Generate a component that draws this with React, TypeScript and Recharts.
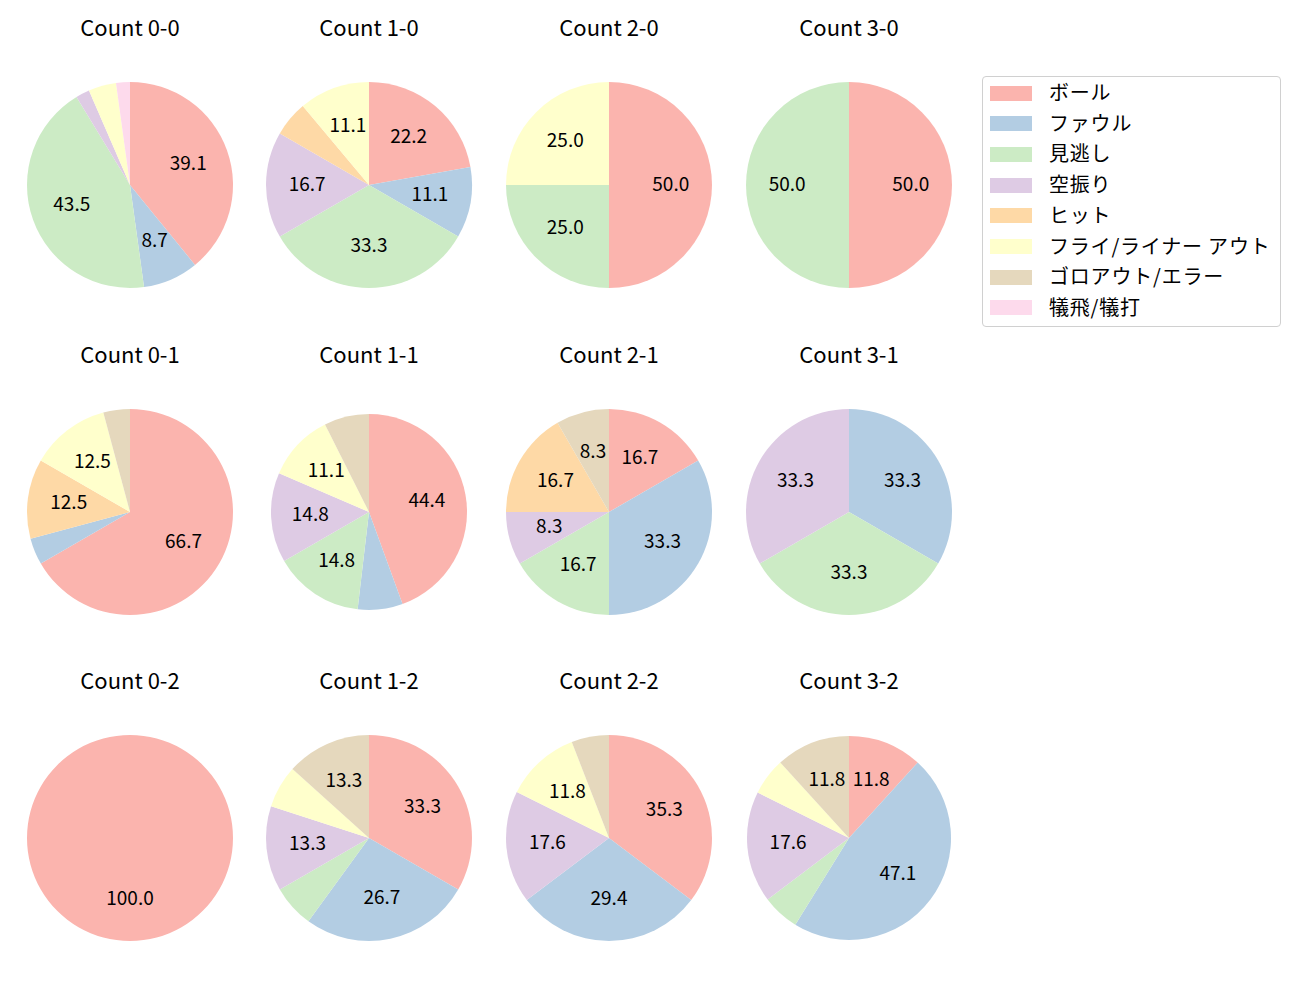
import React from 'react';
import { PieChart, Pie, Cell } from 'recharts';

const CATEGORIES = ['ボール', 'ファウル', '見逃し', '空振り', 'ヒット', 'フライ/ライナー アウト', 'ゴロアウト/エラー', '犠飛/犠打'];
const COLORS = ['#fbb4ae', '#b3cde3', '#ccebc5', '#decbe4', '#fed9a6', '#ffffcc', '#e5d8bd', '#fddaec'];

const COUNT_LABELS = ['0-0', '1-0', '2-0', '3-0', '0-1', '1-1', '2-1', '3-1', '0-2', '1-2', '2-2', '3-2'];

const C00 = [18, 4, 20, 1, 0, 2, 0, 1];
const C10 = [4, 2, 6, 3, 1, 2, 0, 0];
const C20 = [2, 0, 1, 0, 0, 1, 0, 0];
const C30 = [1, 0, 1, 0, 0, 0, 0, 0];
const C01 = [16, 1, 0, 0, 3, 3, 1, 0];
const C11 = [12, 2, 4, 4, 0, 3, 2, 0];
const C21 = [2, 4, 2, 1, 2, 0, 1, 0];
const C31 = [0, 1, 1, 1, 0, 0, 0, 0];
const C02 = [1, 0, 0, 0, 0, 0, 0, 0];
const C12 = [5, 4, 1, 2, 0, 1, 2, 0];
const C22 = [6, 5, 0, 3, 0, 2, 1, 0];
const C32 = [2, 8, 1, 3, 0, 1, 2, 0];

const SERIES = [C00, C10, C20, C30, C01, C11, C21, C31, C02, C12, C22, C32];

const COL_X = [130, 369, 609, 849];
const ROW_Y = [185, 512, 838];
const RADII = [103, 103, 103, 103, 103, 98, 103, 103, 103, 103, 103, 102];

const FONT = '"Noto Sans CJK JP", "Noto Sans", sans-serif';
const RAD = Math.PI / 180;
const BOX = 240;

const renderLabel = (props: any) => {
  const { cx, cy, midAngle, outerRadius, percent } = props;
  const pct = percent * 100;
  if (pct < 8) return null;
  const r = outerRadius * 0.6;
  const x = cx + r * Math.cos(-midAngle * RAD);
  const y = cy + r * Math.sin(-midAngle * RAD) - 3;
  return (
    <text x={x} y={y} textAnchor="middle" dominantBaseline="central" fill="#000" fontSize={19} fontFamily={FONT}>
      {pct.toFixed(1)}
    </text>
  );
};

function SmallPie({ idx }: { idx: number }) {
  const col = idx % 4;
  const row = Math.floor(idx / 4);
  const cxAbs = COL_X[col];
  const cyAbs = ROW_Y[row];
  const data = CATEGORIES.map((name, i) => ({ name, value: SERIES[idx][i], ci: i })).filter((d) => d.value > 0);
  return (
    <div style={{ position: 'absolute', left: cxAbs - BOX / 2, top: cyAbs - BOX / 2, width: BOX, height: BOX }}>
      <PieChart width={BOX} height={BOX} margin={{ top: 0, right: 0, bottom: 0, left: 0 }}>
        <Pie
          data={data}
          dataKey="value"
          nameKey="name"
          cx={BOX / 2}
          cy={BOX / 2}
          outerRadius={RADII[idx]}
          innerRadius={0}
          startAngle={90}
          endAngle={-270}
          stroke="none"
          labelLine={false}
          label={renderLabel}
          isAnimationActive={false}
        >
          {data.map((d) => (
            <Cell key={d.name} fill={COLORS[d.ci]} stroke="none" />
          ))}
        </Pie>
      </PieChart>
    </div>
  );
}

export default function App() {
  return (
    <div style={{ position: 'absolute', left: 0, top: 0, width: 1300, height: 1000, background: '#fff', fontFamily: FONT }}>
      {COUNT_LABELS.map((c, idx) => {
        const col = idx % 4;
        const row = Math.floor(idx / 4);
        return (
          <div
            key={'t' + c}
            style={{
              position: 'absolute',
              left: COL_X[col] - 100,
              width: 200,
              top: ROW_Y[row] - 157 - 15,
              height: 26,
              lineHeight: '26px',
              textAlign: 'center',
              fontSize: 22,
              color: '#000',
              whiteSpace: 'nowrap',
            }}
          >
            {'Count ' + c}
          </div>
        );
      })}
      {COUNT_LABELS.map((c, idx) => (
        <SmallPie key={c} idx={idx} />
      ))}
      <div
        style={{
          position: 'absolute',
          left: 982,
          top: 76,
          width: 297,
          height: 249,
          border: '1px solid #d0d0d0',
          borderRadius: 4,
          background: '#fff',
        }}
      >
        {CATEGORIES.map((name, i) => (
          <div key={name} style={{ position: 'absolute', left: 0, top: 16 + i * 30.7 - 15, height: 30, width: 297 }}>
            <div style={{ position: 'absolute', left: 7, top: 7.5, width: 42, height: 15, background: COLORS[i] }} />
            <div
              style={{
                position: 'absolute',
                left: 66,
                top: -1,
                height: 30,
                lineHeight: '30px',
                fontSize: 20,
                letterSpacing: 0.8,
                color: '#000',
                whiteSpace: 'nowrap',
              }}
            >
              {name}
            </div>
          </div>
        ))}
      </div>
    </div>
  );
}
